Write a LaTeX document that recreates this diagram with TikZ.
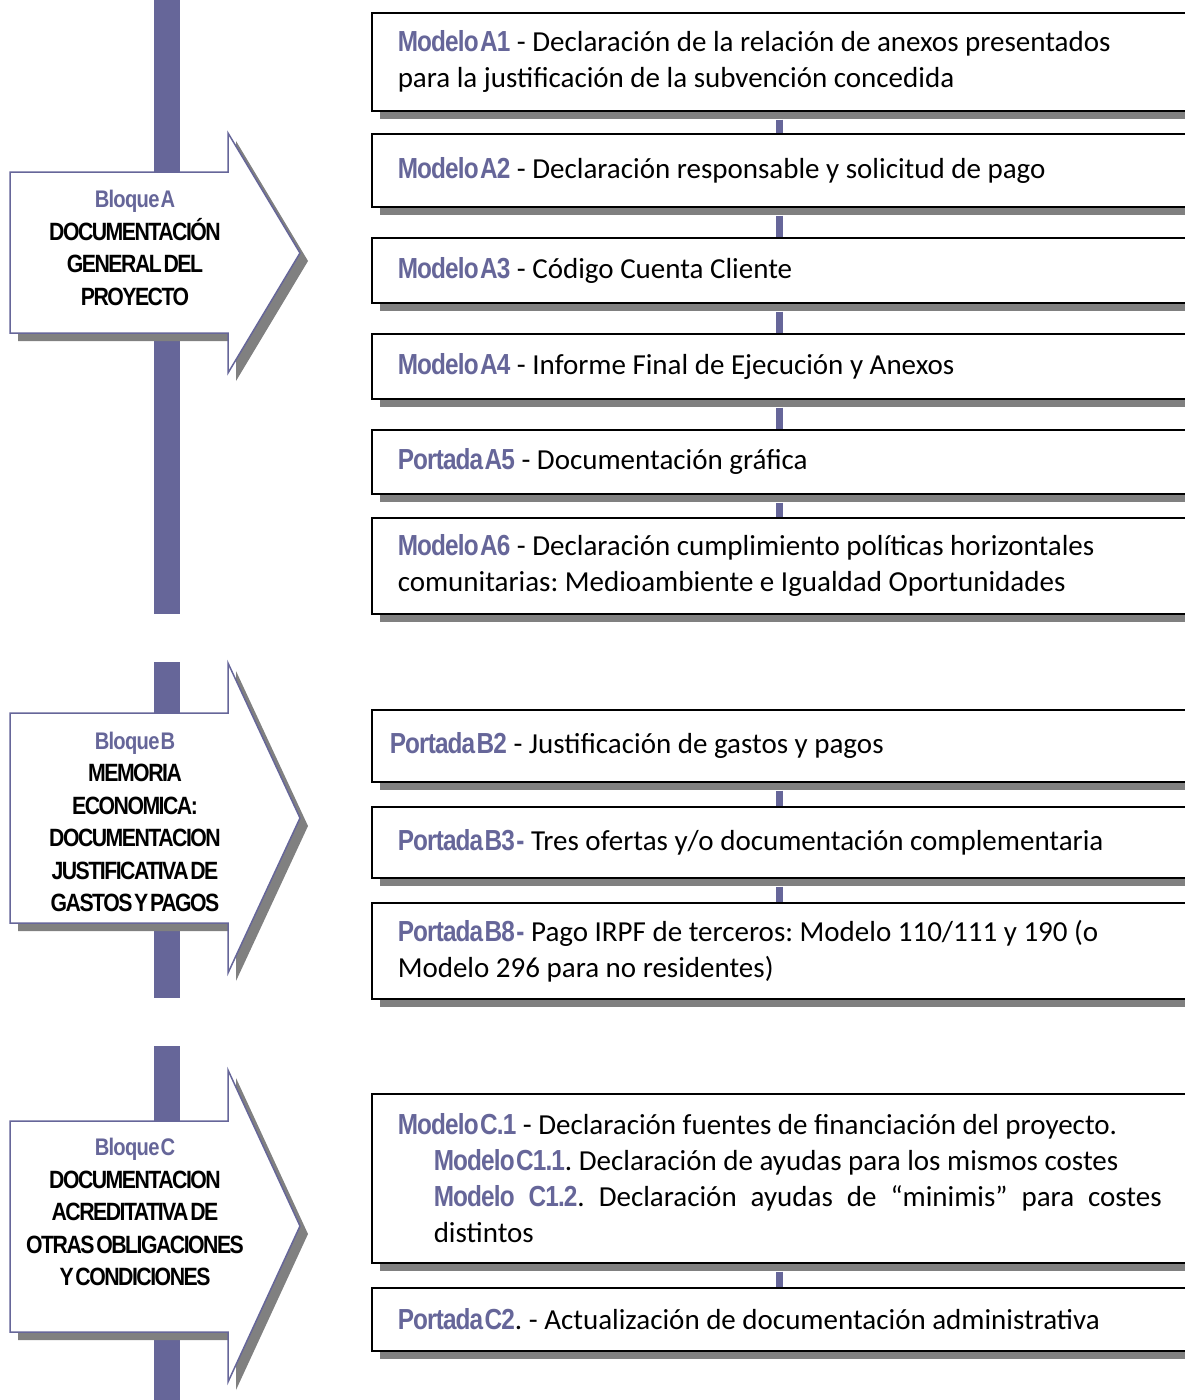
\documentclass[tikz,border=0pt]{standalone}
\usepackage{fontspec}
\setmainfont{Carlito}
\newfontfamily\etiqfont{Liberation Sans Bold}[FakeStretch=0.84,LetterSpace=-3,WordSpace=0.25]
\newfontfamily\flechafont{Liberation Sans Bold}[FakeStretch=0.85,LetterSpace=-6,WordSpace=0.4]
\usetikzlibrary{shadows}
\definecolor{bloque}{RGB}{102,102,153}
\newcommand{\etiq}[1]{{\etiqfont\color{bloque}#1}}
\newcommand{\esp}{\hskip 6pt plus 1fill\relax}
\newcommand{\flecha}[4]{\draw[flecha] (10,#1) -- (228,#1) -- (228,#3) -- (300,{(#3+#4)/2}) -- (228,#4) -- (228,#2) -- (10,#2) -- cycle;}
\tikzset{
  sombra/.style={drop shadow={shadow xshift=8pt,shadow yshift=-8pt,fill=black!50,opacity=1}},
  flecha/.style={draw=bloque,line width=1.5pt,fill=white,sombra},
  barra/.style={fill=bloque},
  enlace/.style={draw=bloque,line width=7pt},
  doc/.style={draw=black,line width=1.5pt,fill=white,anchor=north west,text width=764pt,
    inner xsep=26pt,inner ysep=0pt,align=flush left,font=\fontsize{29}{36}\selectfont\frenchspacing,sombra},
  titulo/.style={align=center,font=\fontsize{25}{32.5}\flechafont}
}
\newcommand{\tbloque}[1]{{\fontsize{24}{32.5}\etiqfont\color{bloque}#1}}

\begin{document}
\begin{tikzpicture}[x=1pt,y=-1pt]
		%%%%% START %%%%%
		\useasboundingbox (0,0) rectangle (1184,1400);
		
		\fill[barra] (154,0) rectangle (180,614);
		\fill[barra] (154,662) rectangle (180,998);
		\fill[barra] (154,1046) rectangle (180,1400);
		
		\flecha{172}{333}{133}{373}
		\flecha{713}{923}{663}{973}
		\flecha{1121}{1332}{1070}{1382}
		
		\node[titulo] (bloqueA) at (135,248) {\tbloque{Bloque A}\\DOCUMENTACIÓN\\GENERAL DEL\\PROYECTO};
		\node[titulo] (bloqueB) at (135,822) {\tbloque{Bloque B}\\MEMORIA\\ECONOMICA:\\DOCUMENTACION\\JUSTIFICATIVA DE\\GASTOS Y PAGOS};
		\node[titulo] (bloqueC) at (135,1212) {\tbloque{Bloque C}\\DOCUMENTACION\\ACREDITATIVA DE\\OTRAS OBLIGACIONES\\Y CONDICIONES};
		
		\node[doc,minimum height=98pt] (a1) at (371,12) {\etiq{Modelo A1} - Declaración de la relación de anexos presentados\\para la justificación de la subvención concedida};
		\node[doc,minimum height=73pt] (a2) at (371,133) {\etiq{Modelo A2} - Declaración responsable y solicitud de pago};
		\node[doc,minimum height=65pt] (a3) at (371,237) {\etiq{Modelo A3} - Código Cuenta Cliente};
		\node[doc,minimum height=65pt] (a4) at (371,333) {\etiq{Modelo A4} - Informe Final de Ejecución y Anexos};
		\node[doc,minimum height=64pt] (a5) at (371,429) {\etiq{Portada A5} - Documentación gráfica};
		\node[doc,minimum height=96pt] (a6) at (371,517) {\etiq{Modelo A6} - Declaración cumplimiento políticas horizontales\\comunitarias: Medioambiente e Igualdad Oportunidades};
		
		\node[doc,minimum height=72pt,inner xsep=18pt,text width=780pt] (b2) at (371,709) {\etiq{Portada B2} - Justificación de gastos y pagos};
		\node[doc,minimum height=71pt] (b3) at (371,806) {\etiq{Portada B3 -} Tres ofertas y/o documentación complementaria};
		\node[doc,minimum height=96pt] (b8) at (371,902) {\etiq{Portada B8 -} Pago IRPF de terceros: Modelo 110/111 y 190 (o\\Modelo 296 para no residentes)};
		
		\node[doc,minimum height=169pt] (c1) at (371,1093) {\etiq{Modelo C.1} - Declaración fuentes de financiación del proyecto.\\
			\hspace*{36pt}\etiq{Modelo C1.1}. Declaración de ayudas para los mismos costes\\
			\hspace*{36pt}\hbox to 728pt{\etiq{Modelo}\esp\etiq{C1.2}.\esp Declaración\esp ayudas\esp de\esp “minimis”\esp para\esp costes}\\
			\hspace*{36pt}distintos};
		\node[doc,minimum height=63pt] (c2) at (371,1287) {\etiq{Portada C2}. - Actualización de documentación administrativa};
		
		\draw[enlace] ([yshift=-8pt]a1.south) -- (a2.north);
		\draw[enlace] ([yshift=-8pt]a2.south) -- (a3.north);
		\draw[enlace] ([yshift=-8pt]a3.south) -- (a4.north);
		\draw[enlace] ([yshift=-8pt]a4.south) -- (a5.north);
		\draw[enlace] ([yshift=-8pt]a5.south) -- (a6.north);
		\draw[enlace] ([yshift=-8pt]b2.south) -- (b3.north);
		\draw[enlace] ([yshift=-8pt]b3.south) -- (b8.north);
		\draw[enlace] ([yshift=-8pt]c1.south) -- (c2.north);
		
		%%%%% END %%%%%
\end{tikzpicture}
\end{document}
